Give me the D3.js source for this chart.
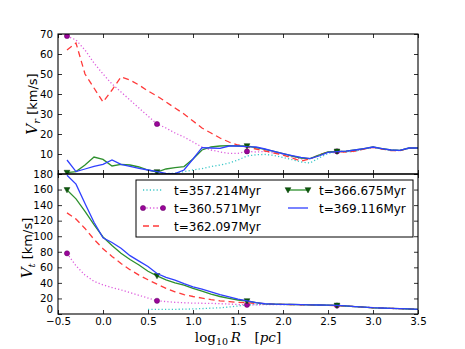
<!DOCTYPE html>
<html><head><meta charset="utf-8">
<script src="https://cdn.jsdelivr.net/npm/d3@7"></script>
<style>body{margin:0;background:#fff}svg{display:block}</style>
</head><body>
<script>
const logR = [-0.4,-0.3,-0.2,-0.1,0.0,0.1,0.2,0.3,0.4,0.5,0.6,0.7,0.8,0.9,1.0,1.1,1.2,1.3,1.4,1.5,1.6,1.7,1.8,1.9,2.0,2.1,2.2,2.3,2.4,2.5,2.6,2.7,2.8,2.9,3.0,3.1,3.2,3.3,3.4,3.5];
const labels = ["t=357.214Myr","t=360.571Myr","t=362.097Myr","t=366.675Myr","t=369.116Myr"];
// radial velocity V_r [km/s]
const vr357 = [null,null,null,null,null,null,null,null,null,0,0,0.2,0.4,1.2,2,2.7,3.7,4.5,5.5,7,9,9.6,9.8,9.3,8.3,7.2,6,5.5,8,10.3,11,11,11.3,12.5,13.3,12.5,12,11.8,12.8,13];
const vr360 = [69,67,62,55.5,50,45,41,37,33,29,25,23,20.5,18.5,16,13.5,12,11,10.3,10.3,11.3,11,11.3,10.5,9.8,8.5,7.5,7.8,9.5,11,11.3,11.2,11.5,12.5,13.3,12.5,11.8,11.7,12.8,13];
const vr362 = [62,65.5,50,43,36,42,48.5,47,44.5,41.5,39,36,33,30,26.5,23,20.5,18,16,14.5,13.5,12.5,11.5,10.5,9.5,8,6.5,7.5,9.5,11,11.2,11,11.5,12.5,13.3,12.5,11.7,11.7,12.8,13];
const vr366 = [0.7,1.2,4.5,8.5,7.3,4,4.8,4.5,3.5,2,1,2.5,3.2,3.7,7.5,12,13.5,14,14.2,14,14,13.2,12.3,11.3,10.2,9,8,7.7,9.5,11,11.3,11.4,12,12.7,13.5,12.7,12,11.8,13,13];
const vr369 = [7,1.2,2.5,3.8,4.8,7,4.8,3.8,2.8,2,1.2,0.3,0.2,2,7.5,13.2,13,12.8,14,14,13.7,13.5,12.5,11.3,10.2,9.2,8.3,7.7,9,10.8,11.2,11.4,12,12.7,13.5,12.7,12,11.8,13,13];
// tangential velocity V_t [km/s]
const vt357 = [null,null,null,null,null,null,null,null,null,6,6,6,6,6.2,6.5,7,7.5,8,9,10.3,11.5,12.2,12.4,12.3,12.2,12.1,11.9,11.7,11.5,11.2,10.8,10.2,9.5,8.8,8,7.6,7.2,6.8,6.4,6];
const vt360 = [78,62,50,42,37.5,34,31,27.5,24,20.5,17,16,15,14.5,14,13.8,13.6,13.3,12.8,12.2,11.8,11.8,12,12.1,12.1,12,11.9,11.7,11.5,11.2,10.8,10.2,9.5,8.8,8,7.6,7.2,6.8,6.4,6];
const vt362 = [130,122,110,96,84,74,65,57,50,44,38.5,33,28.5,25,22.5,20.5,18.5,17,16,15,14.3,13.7,13.2,12.8,12.4,12.1,11.9,11.7,11.5,11.2,10.8,10.2,9.5,8.8,8,7.6,7.2,6.8,6.4,6];
const vt366 = [159.5,148,132,115,99,88,78,70,63,55,49,44,40,37,33,29.5,25.5,22.5,20,18,16.7,14.5,13,12.6,12.4,12.2,12,11.8,11.6,11.4,11,10.3,9.5,8.8,8,7.6,7.2,6.8,6.4,6];
const vt369 = [178.5,167,142,118,98,92,84.5,75,68,61,52,47,43.5,39,35,32,28.5,25,22,19,17,14.5,13.2,12.8,12.5,12.3,12,11.8,11.6,11.4,11.1,10.4,9.6,8.9,8.1,7.7,7.3,6.9,6.5,6];
const xTicks = [-0.5,0.0,0.5,1.0,1.5,2.0,2.5,3.0,3.5];
const vrTicks = [0,10,20,30,40,50,60,70];
const vtTicks = [0,20,40,60,80,100,120,140,160,180];

const W = 465, H = 349;
const L = 58, R = 418, T1 = 34, B1 = 174, T2 = 174, B2 = 314;
const svg = d3.select("body").append("svg").attr("width", W).attr("height", H);

const x = d3.scaleLinear().domain([-0.5, 3.5]).range([L, R]);
const yR = d3.scaleLinear().domain([0, 70]).range([B1, T1]);
const yT = d3.scaleLinear().domain([0, 180]).range([B2, T2]);

const styles = [
  {color:"#3cc8c8", dash:"1.2,2.2", width:1.3, marker:null},
  {color:"#dd5cdd", dash:"1.2,2.2", width:1.3, marker:"circle", mfill:"#9a059a"},
  {color:"#ff3a3a", dash:"6,4", width:1.3, marker:null},
  {color:"#2e902e", dash:null, width:1.3, marker:"tri", mfill:"#0b5a0b"},
  {color:"#3040ff", dash:null, width:1.3, marker:null}
];

const defs = svg.append("defs");
defs.append("clipPath").attr("id","c1").append("rect").attr("x",L).attr("y",T1).attr("width",R-L).attr("height",B1-T1);
defs.append("clipPath").attr("id","c2").append("rect").attr("x",L).attr("y",T2).attr("width",R-L).attr("height",B2-T2);

function drawMarker(g, type, cx, cy, fill) {
  if (type === "circle") {
    g.append("circle").attr("cx",cx).attr("cy",cy).attr("r",2.6).attr("fill",fill).attr("stroke","#600060").attr("stroke-width",0.5);
  } else if (type === "tri") {
    const s = 2.9;
    g.append("path").attr("d",`M${cx-s},${cy-s*0.8}L${cx+s},${cy-s*0.8}L${cx},${cy+s}Z`).attr("fill",fill).attr("stroke","#063806").attr("stroke-width",0.5);
  }
}

function panel(series, y, clipId, top, bottom, yTicks, showXLabels, yLabelFilter) {
  const g = svg.append("g");
  const pg = g.append("g").attr("clip-path",`url(#${clipId})`);
  const line = d3.line().defined(d => d[1] !== null).x(d => x(d[0])).y(d => y(d[1]));
  series.forEach((vals, i) => {
    const st = styles[i];
    const data = logR.map((r, j) => [r, vals[j]]);
    const p = pg.append("path").datum(data).attr("d", line).attr("fill","none")
      .attr("stroke", st.color).attr("stroke-width", st.width);
    if (st.dash) p.attr("stroke-dasharray", st.dash);
    if (st.marker) {
      data.forEach((d, j) => { if (j % 10 === 0 && d[1] !== null) drawMarker(pg, st.marker, x(d[0]), y(d[1]), st.mfill); });
    }
  });
  const axB = d3.axisBottom(x).tickValues(xTicks).tickSizeInner(-4).tickSizeOuter(0)
    .tickFormat(showXLabels ? d3.format(".1f") : () => "").tickPadding(4);
  const axT = d3.axisTop(x).tickValues(xTicks).tickSizeInner(-4).tickSizeOuter(0).tickFormat(() => "");
  const axL = d3.axisLeft(y).tickValues(yTicks).tickSizeInner(-4).tickSizeOuter(0)
    .tickFormat(d => yLabelFilter(d) ? d3.format("d")(d) : "").tickPadding(5);
  const axR = d3.axisRight(y).tickValues(yTicks).tickSizeInner(-4).tickSizeOuter(0).tickFormat(() => "");
  const gB = g.append("g").attr("transform",`translate(0,${bottom})`).call(axB);
  const gT = g.append("g").attr("transform",`translate(0,${top})`).call(axT);
  const gL = g.append("g").attr("transform",`translate(${L},0)`).call(axL);
  const gR = g.append("g").attr("transform",`translate(${R},0)`).call(axR);
  [gB,gT,gL,gR].forEach(a => {
    a.select(".domain").remove();
    a.selectAll(".tick line").attr("stroke","#000").attr("stroke-width",0.8);
    a.selectAll("text").attr("font-family","DejaVu Sans").attr("font-size",10.3).attr("fill","#000");
  });
  gB.selectAll("text").text(d => showXLabels ? (d < 0 ? "\u2212" + Math.abs(d).toFixed(1) : d.toFixed(1)) : "");
  // lift the lowest y label a touch so it clears the first x label
  gL.selectAll(".tick").filter(d => d === 0).select("text").attr("dy","-0.15em");
  [gB,gT,gL,gR].forEach(a => a.selectAll("text").filter(function(){ return this.textContent === ""; }).remove());
  g.append("rect").attr("x",L).attr("y",top).attr("width",R-L).attr("height",bottom-top)
    .attr("fill","none").attr("stroke","#000").attr("stroke-width",1.1);
  return g;
}

// the top panel's "0" sits under the lower panel's "180"
panel([vr357, vr360, vr362, vr366, vr369], yR, "c1", T1, B1, vrTicks, false, d => d !== 0);
panel([vt357, vt360, vt362, vt366, vt369], yT, "c2", T2, B2, vtTicks, true, d => true);

function yLabel(cx, cy, sub) {
  const t = svg.append("text").attr("transform",`translate(${cx},${cy}) rotate(-90)`)
    .attr("text-anchor","middle").attr("fill","#000");
  t.append("tspan").attr("font-family","DejaVu Serif").attr("font-style","italic").attr("font-size",15).text("V");
  t.append("tspan").attr("font-family","DejaVu Serif").attr("font-style","italic").attr("font-size",10).attr("dy",3).text(sub);
  t.append("tspan").attr("font-family","DejaVu Sans").attr("font-size",13).attr("dy",-3).text(" [km/s]");
}
yLabel(37, 104, "r");
yLabel(32, 248, "t");

const xl = svg.append("text").attr("x", (L+R)/2).attr("y", 341.5).attr("text-anchor","middle")
  .attr("font-family","DejaVu Serif").attr("font-size",13.5).attr("fill","#000");
xl.append("tspan").text("log");
xl.append("tspan").attr("font-size",9.5).attr("dy",3).text("10");
xl.append("tspan").attr("dy",-3).text("\u2009");
xl.append("tspan").attr("font-style","italic").text("R");
xl.append("tspan").text("\u2003[");
xl.append("tspan").attr("font-style","italic").text("pc");
xl.append("tspan").text("]");

const lg = svg.append("g");
lg.append("rect").attr("x",136).attr("y",180).attr("width",277).attr("height",57)
  .attr("fill","#fff").attr("stroke","#000").attr("stroke-width",1);
const pos = [[143,190],[143,208],[143,226],[288,190],[288,208]];
labels.forEach((lab, i) => {
  const [lx, ly] = pos[i];
  const st = styles[i];
  const hl = lg.append("line").attr("x1",lx).attr("x2",lx+20).attr("y1",ly).attr("y2",ly)
    .attr("stroke",st.color).attr("stroke-width",st.width);
  if (st.dash) hl.attr("stroke-dasharray", st.dash);
  if (st.marker) { drawMarker(lg, st.marker, lx, ly, st.mfill); drawMarker(lg, st.marker, lx+20, ly, st.mfill); }
  lg.append("text").attr("x", lx+31).attr("y", ly+4.5).attr("font-family","DejaVu Sans")
    .attr("font-size",12).attr("fill","#000").text(lab);
});
</script>
</body></html>
